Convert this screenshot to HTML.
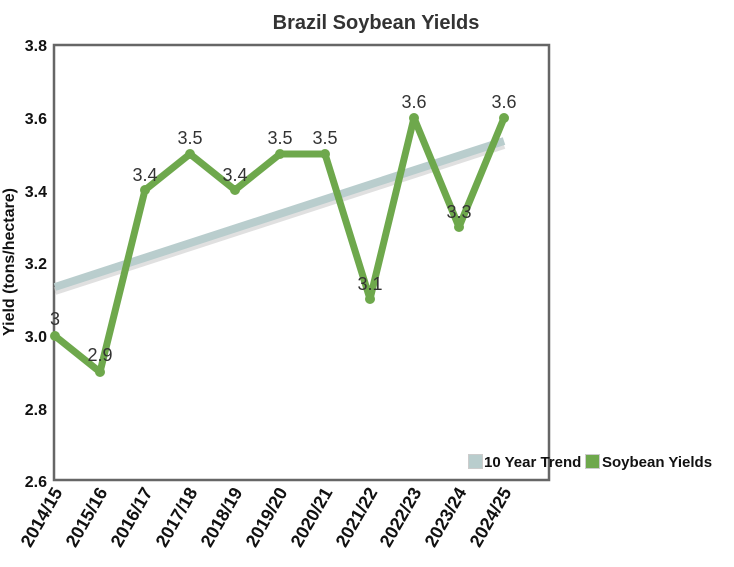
<!DOCTYPE html>
<html><head><meta charset="utf-8"><style>body{margin:0;background:#fff}svg{display:block}</style></head><body>
<svg width="734" height="567" xmlns="http://www.w3.org/2000/svg" font-family="Liberation Sans, Arial, sans-serif">
<text x="376" y="29" text-anchor="middle" font-size="20" font-weight="bold" fill="#333">Brazil Soybean Yields</text>
<rect x="54" y="45" width="495" height="435" fill="none" stroke="#666" stroke-width="2.5"/>
<g font-size="16" font-weight="bold" fill="#111" text-anchor="end">
<text x="47" y="51">3.8</text><text x="47" y="124">3.6</text><text x="47" y="197">3.4</text><text x="47" y="269">3.2</text><text x="47" y="342">3.0</text><text x="47" y="415">2.8</text><text x="47" y="487">2.6</text>
</g>
<text transform="translate(14,262) rotate(-90)" text-anchor="middle" font-size="16" font-weight="bold" fill="#111">Yield (tons/hectare)</text>
<line x1="55" y1="291" x2="504" y2="145" stroke="#ccc" stroke-width="8" opacity="0.6"/>
<line x1="55" y1="287" x2="504" y2="141" stroke="#b9cdcd" stroke-width="8" stroke-linecap="butt"/>
<polyline fill="none" stroke="#6ea84c" stroke-width="7" stroke-linejoin="round" stroke-linecap="round" points="55,336 100,372 145,190 190,154 235,190 280,154 325,154 370,299 414,118 459,227 504,118"/>
<g fill="#6ea84c">
<circle cx="55" cy="336" r="5"/><circle cx="100" cy="372" r="5"/><circle cx="145" cy="190" r="5"/><circle cx="190" cy="154" r="5"/><circle cx="235" cy="190" r="5"/><circle cx="280" cy="154" r="5"/><circle cx="325" cy="154" r="5"/><circle cx="370" cy="299" r="5"/><circle cx="414" cy="118" r="5"/><circle cx="459" cy="227" r="5"/><circle cx="504" cy="118" r="5"/>
</g>
<g font-size="18" fill="#333" text-anchor="middle">
<text x="55" y="325">3</text><text x="100" y="361">2.9</text><text x="145" y="181">3.4</text><text x="190" y="144">3.5</text><text x="235" y="181">3.4</text><text x="280" y="144">3.5</text><text x="325" y="144">3.5</text><text x="370" y="290">3.1</text><text x="414" y="108">3.6</text><text x="459" y="218">3.3</text><text x="504" y="108">3.6</text>
</g>
<g font-size="18" font-weight="bold" fill="#111" text-anchor="end">
<text transform="translate(63,492) rotate(-60)">2014/15</text>
<text transform="translate(108,492) rotate(-60)">2015/16</text>
<text transform="translate(153,492) rotate(-60)">2016/17</text>
<text transform="translate(198,492) rotate(-60)">2017/18</text>
<text transform="translate(243,492) rotate(-60)">2018/19</text>
<text transform="translate(288,492) rotate(-60)">2019/20</text>
<text transform="translate(333,492) rotate(-60)">2020/21</text>
<text transform="translate(378,492) rotate(-60)">2021/22</text>
<text transform="translate(422,492) rotate(-60)">2022/23</text>
<text transform="translate(467,492) rotate(-60)">2023/24</text>
<text transform="translate(512,492) rotate(-60)">2024/25</text>
</g>
<rect x="468.5" y="454.5" width="14" height="14" fill="#b9cdcd" stroke="#ccc"/>
<text x="484" y="467" font-size="15" font-weight="bold" fill="#111">10 Year Trend</text>
<rect x="585.5" y="454.5" width="14" height="14" fill="#6ea84c" stroke="#ccc"/>
<text x="602" y="467" font-size="15" font-weight="bold" fill="#111">Soybean Yields</text>
</svg>
</body></html>
